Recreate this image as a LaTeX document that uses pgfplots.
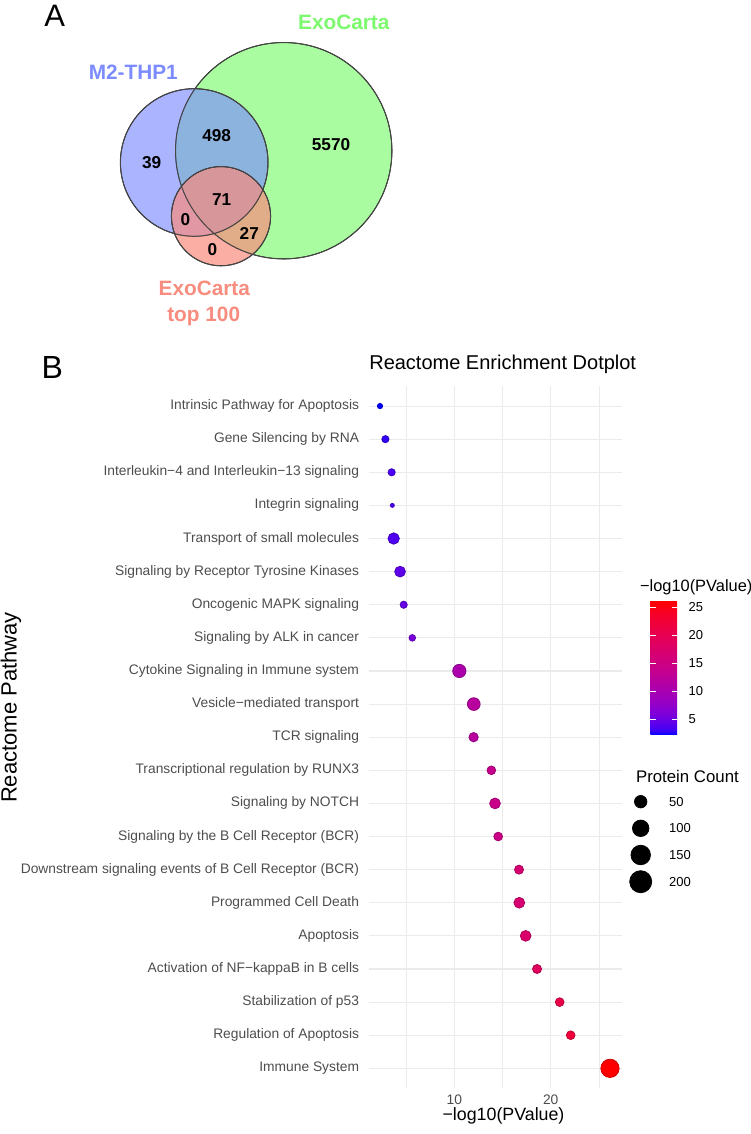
\documentclass[border=0pt]{standalone}
\usepackage{pgfplots}
\pgfplotsset{compat=1.18}
\usepackage{fontspec}
\setmainfont{Liberation Sans}
\usetikzlibrary{calc}

\definecolor{grey30}{HTML}{4D4D4D}
\definecolor{grey92}{HTML}{EBEBEB}
\definecolor{vgreen}{RGB}{124,250,109}
\definecolor{vblue}{RGB}{124,140,255}
\definecolor{vred}{RGB}{248,140,126}
\definecolor{vline}{RGB}{70,70,70}

\newcommand\fs[1]{\fontsize{#1}{#1}\selectfont}

\pgfplotsset{
  colormap={bluered}{rgb255(0pt)=(0,0,255); rgb255(2pt)=(47,0,250); rgb255(5pt)=(75,0,243);
    rgb255(14pt)=(121,0,221); rgb255(25pt)=(154,0,194); rgb255(50pt)=(201,0,137);
    rgb255(75pt)=(232,0,80); rgb255(90pt)=(246,0,42); rgb255(100pt)=(255,0,0)},
  % dot radius from protein count
  dotsize/.style={
    visualization depends on={(4+1.3*sqrt(\thisrow{n}-8))/4 \as \rad},
    scatter/@pre marker code/.append style={/tikz/mark size=\rad}},
  % full-page canvas in pixel units of the reference
  canvas/.style={
    at={(0pt,0pt)}, anchor=south west,
    scale only axis, width=375pt, height=567pt,
    xmin=0, xmax=750, ymin=0, ymax=1134, y dir=reverse,
    hide axis, clip=false},
}

\begin{document}
\begin{tikzpicture}
\useasboundingbox (0,0) rectangle (375pt,567pt);

% ---- B: dot plot ----
\begin{axis}[
  at={(184.25pt,22.9pt)}, anchor=south west,
  scale only axis, width=126.5pt, height=351pt,
  xmin=1.097, xmax=27.343, ymin=0.4, ymax=21.6,
  xtick={10,20}, minor xtick={5,15,25},
  ytick={1,...,21},
  yticklabels={Immune System, Regulation of Apoptosis, Stabilization of p53,
    Activation of NF−kappaB in B cells, Apoptosis, Programmed Cell Death,
    Downstream signaling events of B Cell Receptor (BCR),
    Signaling by the B Cell Receptor (BCR), Signaling by NOTCH,
    Transcriptional regulation by RUNX3, TCR signaling, Vesicle−mediated transport,
    Cytokine Signaling in Immune system, Signaling by ALK in cancer,
    Oncogenic MAPK signaling, Signaling by Receptor Tyrosine Kinases,
    Transport of small molecules, Integrin signaling,
    Interleukin−4 and Interleukin−13 signaling, Gene Silencing by RNA,
    Intrinsic Pathway for Apoptosis},
  xmajorgrids, xminorgrids, ymajorgrids,
  major grid style={grey92, line width=0.55pt},
  minor grid style={grey92, line width=0.3pt},
  separate axis lines, axis line style={draw=none},
  major tick length=0pt, minor tick length=0pt, tick style={draw=none},
  ticklabel style={font=\fs{6.9}, text=grey30},
  yticklabel style={xshift=-1.2pt},
  xticklabel style={yshift=0.3pt},
  /pgf/number format/assume math mode=true,
  colormap name=bluered,
  point meta min=2.29, point meta max=26.15,
  colorbar,
  colorbar style={
    at={($(parent axis.north east)+(5.9pt,-107.3pt)$)}, anchor=north west,
    scale only axis, width=13.35pt, height=66.8pt,
    ytick={5,10,15,20,25},
    ytick pos=both, yticklabel pos=right,
    tick align=inside, major tick length=2.7pt,
    ytick style={draw=white, line width=0.55pt},
    axis line style={draw=none},
    yticklabel style={font=\fs{6.5}, text=black, xshift=2.3pt},
    /pgf/number format/assume math mode=true,
  },
]
\addplot[scatter, only marks, mark=*, point meta=x, dotsize] table[x=p, y=y] {
y p n
1 26.15 129
2 22.07 21
3 20.93 21
4 18.58 23
5 17.40 35
6 16.74 35
7 16.71 23
8 14.55 21
9 14.22 35
10 13.84 21
11 12.00 25
12 12.02 53
13 10.52 59
14 5.64 12
15 4.75 14
16 4.37 35
17 3.71 40
18 3.57 8
19 3.50 14
20 2.85 14
21 2.29 9
};
\end{axis}

% ---- A: Venn circles and the size legend keys ----
\begin{axis}[canvas]
\addplot[only marks, mark=*, mark size=54.1pt,
  mark options={draw=none, fill=vgreen, fill opacity=0.65}] coordinates {(283.7,150.7)};
\addplot[only marks, mark=*, mark size=36.9pt,
  mark options={draw=none, fill=vblue, fill opacity=0.65}] coordinates {(194.2,162.5)};
\addplot[only marks, mark=*, mark size=24.8pt,
  mark options={draw=none, fill=vred, fill opacity=0.7}] coordinates {(221,216.2)};
\addplot[only marks, mark=o, mark size=54.1pt,
  mark options={draw=vline, line width=0.5pt}] coordinates {(283.7,150.7)};
\addplot[only marks, mark=o, mark size=36.9pt,
  mark options={draw=vline, line width=0.5pt}] coordinates {(194.2,162.5)};
\addplot[only marks, mark=o, mark size=24.8pt,
  mark options={draw=vline, line width=0.5pt}] coordinates {(221,216.2)};

% Protein Count legend keys
\addplot[scatter, only marks, mark=*, scatter/use mapped color={draw=black, fill=black},
  dotsize] table[x=x, y=y] {
x y n
640.7 801.7 50
640.7 828.3 100
640.7 855.0 150
640.7 881.7 200
};
\end{axis}

% ---- all free text, on top ----
\begin{axis}[canvas]
\node[font=\fs{15.5}, anchor=base] at (axis cs:54.7,26.7) {A};
\node[font=\fs{16}, anchor=base] at (axis cs:52.2,378.3) {B};

\begin{scope}[font=\bfseries\fs{10.4}]
\node[text=vgreen, anchor=base] at (axis cs:343.8,29.3) {ExoCarta};
\node[text=vblue, anchor=base] at (axis cs:133.3,80) {M2-THP1};
\node[text=vred, anchor=base] at (axis cs:204.3,295) {ExoCarta};
\node[text=vred, anchor=base] at (axis cs:203.7,321.7) {top 100};
\end{scope}
\begin{scope}[font=\bfseries\fs{8.6}]
\node at (axis cs:151.7,162.3) {39};
\node at (axis cs:216.7,135.7) {498};
\node at (axis cs:331,144.3) {5570};
\node at (axis cs:221.7,200) {71};
\node at (axis cs:185.3,220) {0};
\node at (axis cs:249.3,233.3) {27};
\node at (axis cs:212.3,250) {0};
\end{scope}

\node[font=\fs{10}, anchor=base] at (axis cs:502.7,369.3) {Reactome Enrichment Dotplot};
\node[font=\fs{11}, rotate=90] at (axis cs:11,707.5) {Reactome Pathway};
\node[font=\fs{8.9}] at (axis cs:503.5,1116) {−log10(PValue)};
\node[font=\fs{8.2}, anchor=west] at (axis cs:633,587.5) {−log10(PValue)};
\node[font=\fs{8.4}, anchor=west] at (axis cs:629,776.5) {Protein Count};
\begin{scope}[font=\fs{6.5}]
\node[anchor=west] at (axis cs:662,801.7) {50};
\node[anchor=west] at (axis cs:662,828.3) {100};
\node[anchor=west] at (axis cs:662,855.0) {150};
\node[anchor=west] at (axis cs:662,881.7) {200};
\end{scope}
\end{axis}
\end{tikzpicture}
\end{document}
